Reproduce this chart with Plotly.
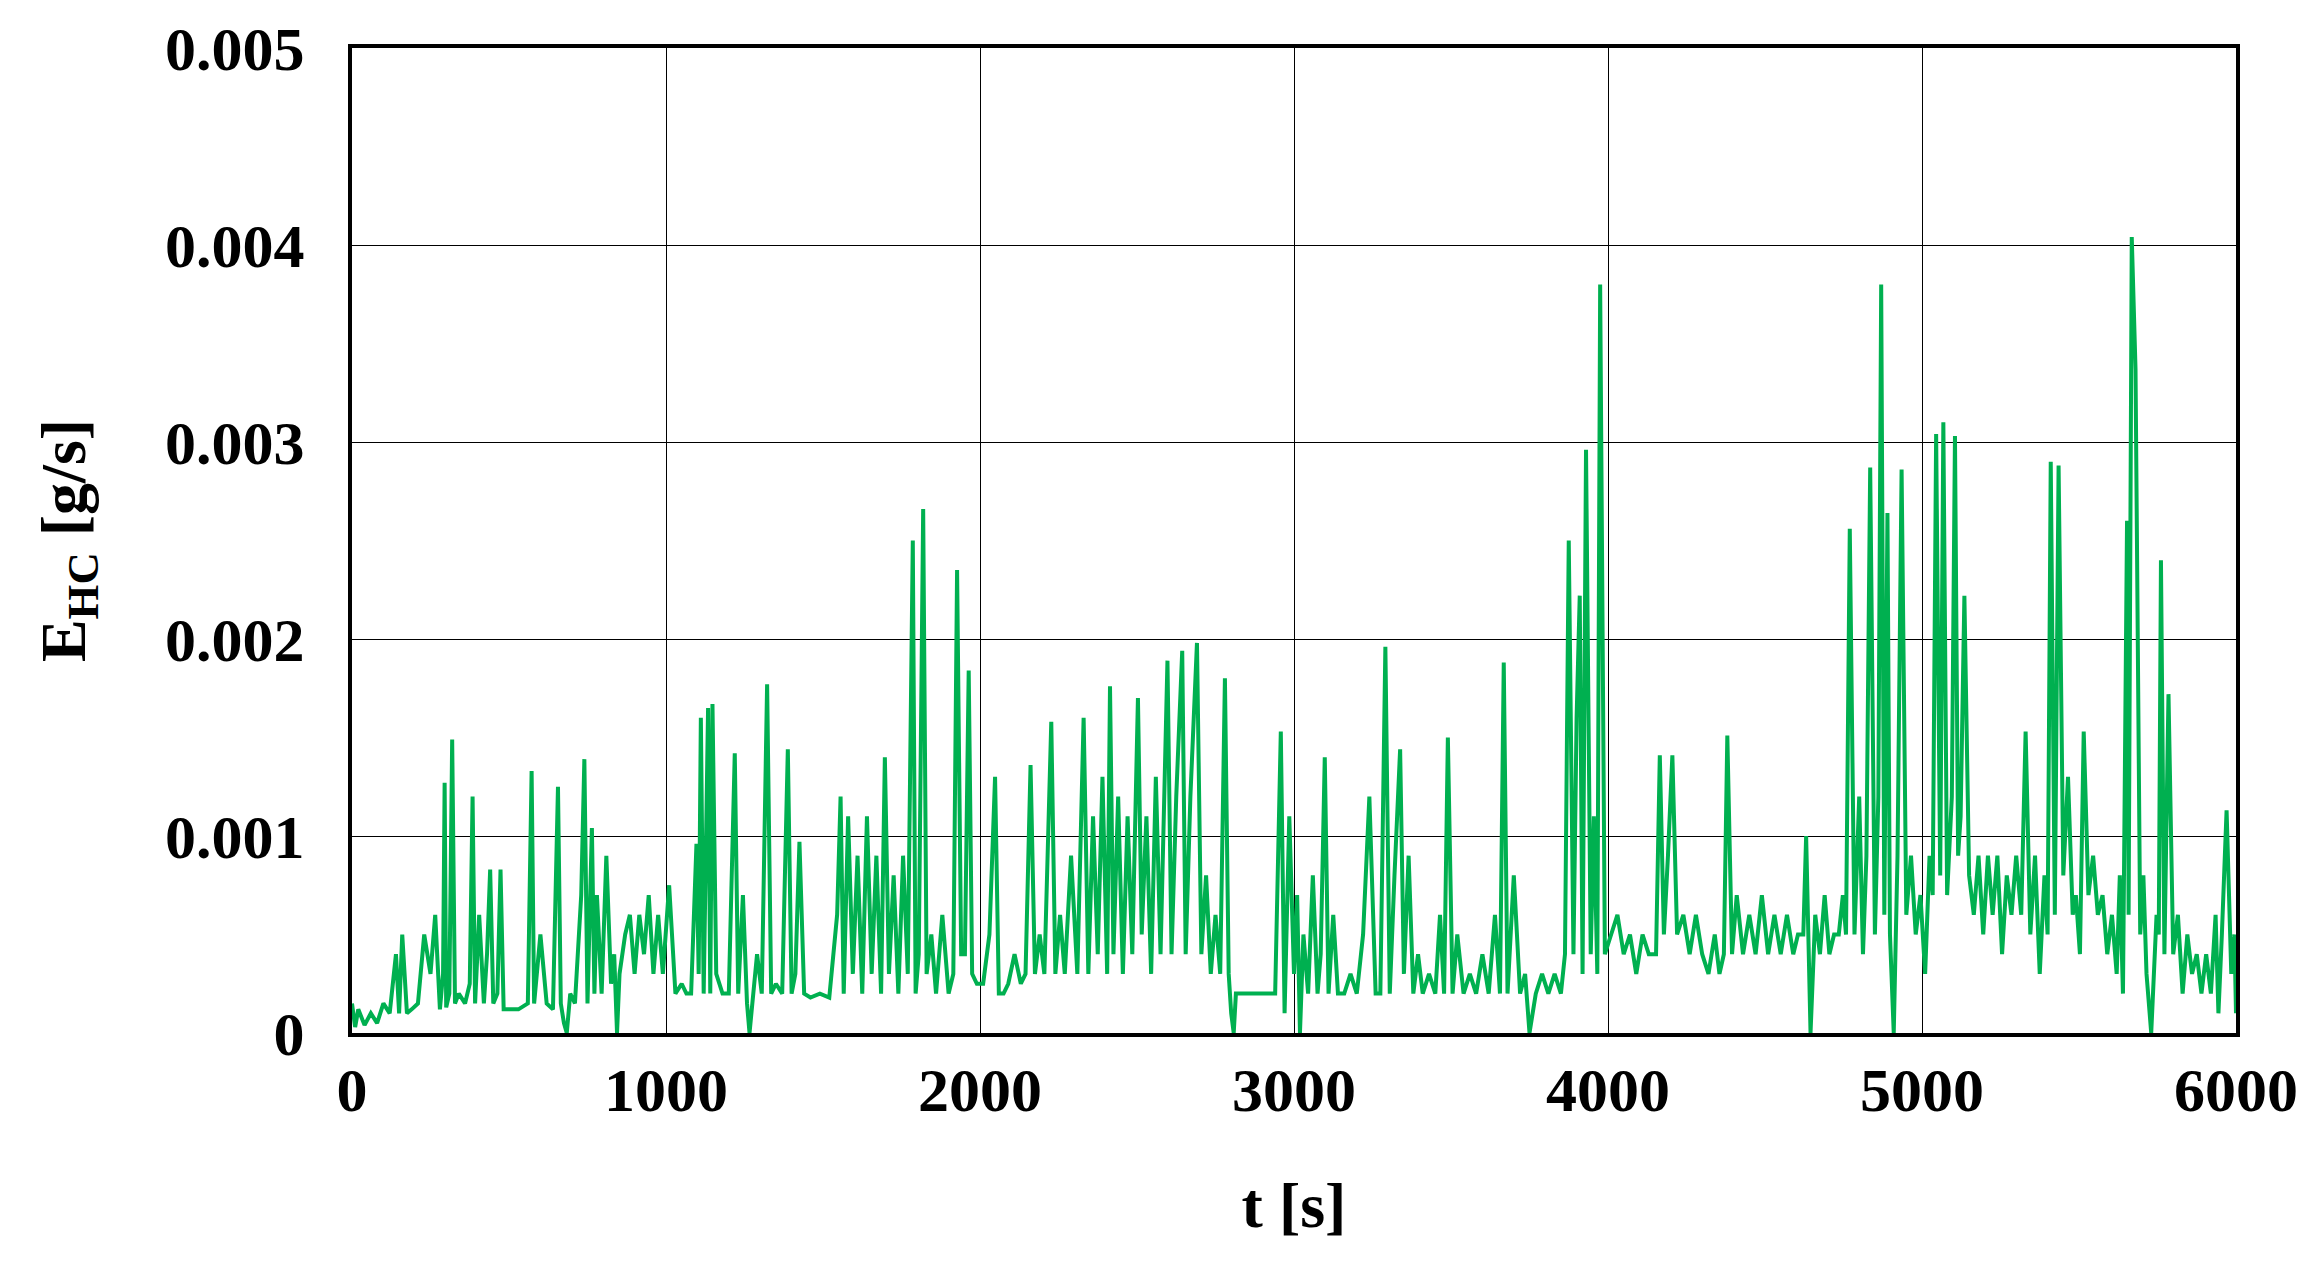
import plotly.graph_objects as go

t_s = [0, 10, 20, 40, 60, 80, 100, 120, 140, 150, 160, 175, 190, 210, 230, 250, 265, 280, 290, 295, 300, 310, 319, 328, 340, 360, 375, 384, 392, 405, 420, 430, 440, 450, 463, 473, 483, 500, 530, 560, 572, 580, 600, 620, 640, 656, 665, 675, 684, 695, 710, 730, 740, 750, 764, 772, 780, 795, 810, 825, 835, 844, 852, 870, 885, 900, 915, 930, 945, 960, 975, 990, 1010, 1030, 1050, 1065, 1080, 1097, 1104, 1111, 1120, 1134, 1141, 1148, 1160, 1180, 1200, 1219, 1230, 1245, 1258, 1266, 1275, 1290, 1305, 1322, 1335, 1350, 1370, 1388, 1400, 1412, 1425, 1440, 1460, 1490, 1520, 1545, 1556, 1566, 1580, 1595, 1610, 1625, 1640, 1655, 1670, 1685, 1697, 1710, 1725, 1740, 1755, 1770, 1786, 1795, 1805, 1819, 1830, 1845, 1860, 1880, 1900, 1915, 1927, 1940, 1952, 1964, 1975, 1990, 2010, 2030, 2048, 2060, 2075, 2090, 2110, 2130, 2145, 2161, 2175, 2190, 2205, 2227, 2240, 2255, 2270, 2290, 2310, 2330, 2345, 2360, 2375, 2390, 2405, 2414, 2425, 2440, 2455, 2470, 2485, 2503, 2515, 2530, 2545, 2560, 2575, 2597, 2610, 2625, 2644, 2655, 2670, 2691, 2705, 2720, 2735, 2750, 2765, 2780, 2792, 2800, 2808, 2815, 2830, 2850, 2880, 2910, 2940, 2958, 2970, 2985, 3000, 3010, 3019, 3030, 3045, 3060, 3075, 3085, 3098, 3110, 3125, 3140, 3160, 3180, 3200, 3220, 3240, 3260, 3275, 3291, 3305, 3320, 3338, 3350, 3365, 3380, 3395, 3410, 3430, 3450, 3465, 3478, 3490, 3505, 3520, 3540, 3560, 3580, 3600, 3620, 3640, 3656, 3668, 3680, 3700, 3720, 3736, 3750, 3770, 3790, 3810, 3830, 3850, 3863, 3875, 3890, 3900, 3910, 3919, 3930, 3945, 3955, 3966, 3975, 3990, 4010, 4030, 4050, 4070, 4090, 4110, 4130, 4153, 4165, 4178, 4191, 4205, 4220, 4240, 4260, 4280, 4300, 4320, 4340, 4355, 4369, 4380, 4395, 4410, 4430, 4450, 4470, 4490, 4510, 4530, 4550, 4570, 4590, 4605, 4622, 4631, 4645, 4660, 4675, 4690, 4705, 4720, 4735, 4748, 4758, 4770, 4785, 4800, 4812, 4823, 4835, 4850, 4861, 4870, 4880, 4890, 4898, 4910, 4922, 4935, 4950, 4965, 4980, 4995, 5010, 5024, 5034, 5045, 5058, 5068, 5080, 5095, 5105, 5115, 5123, 5135, 5150, 5165, 5180, 5195, 5210, 5225, 5240, 5255, 5270, 5285, 5300, 5316, 5330, 5345, 5360, 5375, 5390, 5400, 5410, 5423, 5435, 5450, 5465, 5480, 5490, 5503, 5515, 5530, 5545, 5560, 5575, 5590, 5605, 5620, 5630, 5640, 5653, 5658, 5668, 5680, 5695, 5705, 5715, 5730, 5747, 5754, 5761, 5772, 5785, 5800, 5815, 5830, 5845, 5860, 5875, 5890, 5905, 5920, 5935, 5944, 5955, 5970, 5985, 5995, 6000]
e_hc = [0.00015, 0.00003, 0.00012, 0.00004, 0.0001, 0.00005, 0.00015, 0.0001, 0.0004, 0.0001, 0.0005, 0.0001, 0.00012, 0.00015, 0.0005, 0.0003, 0.0006, 0.00012, 0.0003, 0.00127, 0.00013, 0.0002, 0.00149, 0.00015, 0.0002, 0.00015, 0.00025, 0.0012, 0.00015, 0.0006, 0.00015, 0.0004, 0.00083, 0.00015, 0.0002, 0.00083, 0.00012, 0.00012, 0.00012, 0.00015, 0.00133, 0.00015, 0.0005, 0.00015, 0.00012, 0.00125, 0.00015, 0.00005, 0.0, 0.0002, 0.00015, 0.0007, 0.00139, 0.00015, 0.00104, 0.0002, 0.0007, 0.0002, 0.0009, 0.00025, 0.0004, 0.0, 0.0003, 0.0005, 0.0006, 0.0003, 0.0006, 0.0004, 0.0007, 0.0003, 0.0006, 0.0003, 0.00075, 0.0002, 0.00025, 0.0002, 0.0002, 0.00096, 0.0003, 0.0016, 0.0002, 0.00165, 0.0002, 0.00167, 0.0003, 0.0002, 0.0002, 0.00142, 0.0002, 0.0007, 0.00015, 0.0, 0.00015, 0.0004, 0.0002, 0.00177, 0.0002, 0.00025, 0.0002, 0.00144, 0.0002, 0.0003, 0.00097, 0.0002, 0.00018, 0.0002, 0.00018, 0.0006, 0.0012, 0.0002, 0.0011, 0.0003, 0.0009, 0.0002, 0.0011, 0.0003, 0.0009, 0.0002, 0.0014, 0.0003, 0.0008, 0.0002, 0.0009, 0.0003, 0.0025, 0.0002, 0.0004, 0.00266, 0.0003, 0.0005, 0.0002, 0.0006, 0.0002, 0.0003, 0.00235, 0.0004, 0.0004, 0.00184, 0.0003, 0.00025, 0.00025, 0.0005, 0.0013, 0.0002, 0.0002, 0.00025, 0.0004, 0.00025, 0.0003, 0.00136, 0.0003, 0.0005, 0.0003, 0.00158, 0.0003, 0.0006, 0.0003, 0.0009, 0.0003, 0.0016, 0.0003, 0.0011, 0.0004, 0.0013, 0.0003, 0.00176, 0.0004, 0.0012, 0.0003, 0.0011, 0.0004, 0.0017, 0.0005, 0.0011, 0.0003, 0.0013, 0.0004, 0.00189, 0.0004, 0.0012, 0.00194, 0.0004, 0.0012, 0.00198, 0.0004, 0.0008, 0.0003, 0.0006, 0.0003, 0.0018, 0.0003, 0.0001, 0.0, 0.0002, 0.0002, 0.0002, 0.0002, 0.0002, 0.0002, 0.00153, 0.0001, 0.0011, 0.0003, 0.0007, 0.0, 0.0005, 0.0002, 0.0008, 0.0002, 0.0004, 0.0014, 0.0002, 0.0006, 0.0002, 0.0002, 0.0003, 0.0002, 0.0005, 0.0012, 0.0002, 0.0002, 0.00196, 0.0002, 0.0008, 0.00144, 0.0003, 0.0009, 0.0002, 0.0004, 0.0002, 0.0003, 0.0002, 0.0006, 0.0002, 0.0015, 0.0002, 0.0005, 0.0002, 0.0003, 0.0002, 0.0004, 0.0002, 0.0006, 0.0002, 0.00188, 0.0002, 0.0008, 0.0002, 0.0003, 0.0, 0.0002, 0.0003, 0.0002, 0.0003, 0.0002, 0.0004, 0.0025, 0.0004, 0.0016, 0.00222, 0.0003, 0.00296, 0.0004, 0.0011, 0.0003, 0.0038, 0.0004, 0.0005, 0.0006, 0.0004, 0.0005, 0.0003, 0.0005, 0.0004, 0.0004, 0.00141, 0.0005, 0.0009, 0.00141, 0.0005, 0.0006, 0.0004, 0.0006, 0.0004, 0.0003, 0.0005, 0.0003, 0.0004, 0.00151, 0.0004, 0.0007, 0.0004, 0.0006, 0.0004, 0.0007, 0.0004, 0.0006, 0.0004, 0.0006, 0.0004, 0.0005, 0.0005, 0.001, 0.0, 0.0006, 0.0004, 0.0007, 0.0004, 0.0005, 0.0005, 0.0007, 0.0005, 0.00256, 0.0005, 0.0012, 0.0004, 0.0009, 0.00287, 0.0005, 0.0012, 0.0038, 0.0006, 0.00264, 0.0005, 0.0, 0.0009, 0.00286, 0.0006, 0.0009, 0.0005, 0.0007, 0.0003, 0.0009, 0.0007, 0.00304, 0.0008, 0.0031, 0.0007, 0.0012, 0.00303, 0.0009, 0.0011, 0.00222, 0.0008, 0.0006, 0.0009, 0.0005, 0.0009, 0.0006, 0.0009, 0.0004, 0.0008, 0.0006, 0.0009, 0.0006, 0.00153, 0.0005, 0.0009, 0.0003, 0.0008, 0.0005, 0.0029, 0.0006, 0.00288, 0.0008, 0.0013, 0.0006, 0.0007, 0.0004, 0.00153, 0.0007, 0.0009, 0.0006, 0.0007, 0.0004, 0.0006, 0.0003, 0.0008, 0.0002, 0.0026, 0.0006, 0.00404, 0.00337, 0.0005, 0.0008, 0.0003, 0.0, 0.0006, 0.0005, 0.0024, 0.0004, 0.00172, 0.0004, 0.0006, 0.0002, 0.0005, 0.0003, 0.0004, 0.0002, 0.0004, 0.0002, 0.0006, 0.0001, 0.0005, 0.00113, 0.0003, 0.0005, 0.0001, 0.0007, 0.0002]

y_ticks = [0, 0.001, 0.002, 0.003, 0.004, 0.005]
y_tick_text = ["0", "0.001", "0.002", "0.003", "0.004", "0.005"]
x_ticks = [0, 1000, 2000, 3000, 4000, 5000, 6000]

fnt = "Liberation Serif, Times New Roman, serif"
fig = go.Figure(go.Scatter(x=t_s, y=e_hc, mode="lines",
                           line=dict(color="#00B050", width=4), showlegend=False))
fig.update_layout(
    width=2313, height=1275, plot_bgcolor="white", paper_bgcolor="white",
    margin=dict(l=344, r=85, t=40, b=250),
    font=dict(family=fnt, size=62, color="black"),
)
fig.update_xaxes(range=[0, 6000], tickvals=x_ticks, ticktext=["<b>%d</b>" % v for v in x_ticks],
                 showgrid=True, gridcolor="black", gridwidth=1, automargin=False,
                 showline=True, linecolor="black", linewidth=4, mirror=True, ticks="",
                 tickfont=dict(size=62, family=fnt), zeroline=False,
                 title=dict(text="<b>t [s]</b>", font=dict(size=64, family=fnt), standoff=60))
fig.update_yaxes(range=[0, 0.005], tickvals=y_ticks, ticktext=["<b>%s</b>  " % s for s in y_tick_text],
                 showgrid=True, gridcolor="black", automargin=False,
                 gridwidth=1, showline=True, linecolor="black", linewidth=4, mirror=True, ticks="",
                 tickfont=dict(size=62, family=fnt), zeroline=False,
                 title=dict(text="<b>E<sub>HC</sub> [g/s]</b>", font=dict(size=64, family=fnt), standoff=60))
fig.write_html("out.html")
